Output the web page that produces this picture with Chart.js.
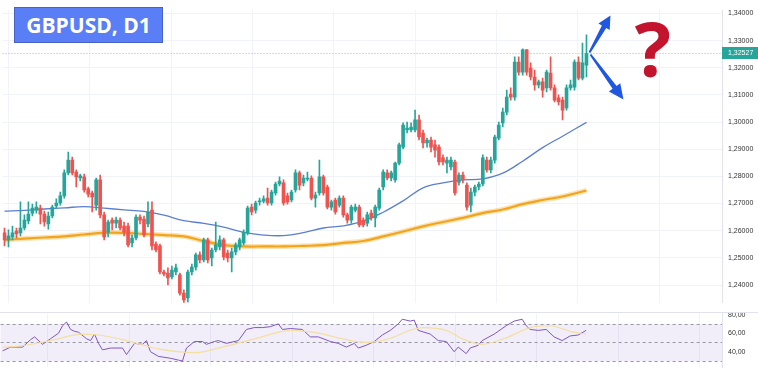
<!DOCTYPE html>
<html>
<head>
<meta charset="utf-8">
<script src="https://cdn.jsdelivr.net/npm/chart.js@4.4.1/dist/chart.umd.min.js"></script>
<style>
  html, body { margin: 0; padding: 0; background: #fff; }
  #wrap { position: relative; width: 758px; height: 368px; overflow: hidden; background: #fff; }
  #rsiBox { position: absolute; left: 0; top: 313px; width: 758px; height: 55px; }
  #mainBox { position: absolute; left: 0; top: 0; width: 758px; height: 313px; background: #fff; }
  #title {
    position: absolute; left: 14px; top: 7px; width: 149px; height: 36px;
    box-sizing: border-box; background: #5a7ef5; border: 1px solid #4762c4;
    color: #fff; font: bold 21px "Open Sans"; line-height: 34px; text-align: center;
  }
  #qmark {
    position: absolute; left: 633px; top: 10px; width: 40px;
    color: #c3142d; font: bold 76px "Open Sans"; line-height: 76px; text-align: center;
  }
</style>
</head>
<body>
<div id="wrap">
  <div id="rsiBox"><canvas id="rsiChart" width="758" height="55"></canvas></div>
  <div id="mainBox"><canvas id="priceChart" width="758" height="313"></canvas></div>
  <div id="title">GBPUSD, D1</div>
  <div id="qmark">?</div>
</div>
<script>
// daily candles
const opens = [1.2592,1.2566,1.2577,1.2599,1.2592,1.2610,1.2636,1.2665,1.2676,1.2683,
  1.2661,1.2625,1.2654,1.2691,1.2702,1.2728,1.2813,1.2860,1.2816,1.2794,
  1.2798,1.2754,1.2739,1.2694,1.2787,1.2658,1.2595,1.2639,1.2628,1.2639,
  1.2617,1.2617,1.2555,1.2573,1.2650,1.2643,1.2625,1.2676,1.2551,1.2544,
  1.2448,1.2444,1.2430,1.2448,1.2437,1.2370,1.2352,1.2448,1.2466,1.2511,
  1.2492,1.2566,1.2500,1.2529,1.2540,1.2566,1.2518,1.2500,1.2522,1.2540,
  1.2555,1.2592,1.2687,1.2676,1.2706,1.2709,1.2720,1.2702,1.2739,1.2772,
  1.2776,1.2728,1.2713,1.2750,1.2813,1.2776,1.2790,1.2794,1.2720,1.2739,
  1.2798,1.2761,1.2687,1.2713,1.2694,1.2720,1.2658,1.2639,1.2676,1.2687,
  1.2639,1.2628,1.2665,1.2647,1.2683,1.2761,1.2813,1.2794,1.2787,1.2849,
  1.2908,1.2971,1.2971,1.2971,1.3008,1.2960,1.2923,1.2934,1.2916,1.2908,
  1.2868,1.2849,1.2835,1.2853,1.2779,1.2805,1.2768,1.2694,1.2742,1.2761,
  1.2772,1.2860,1.2824,1.2860,1.2941,1.2997,1.3037,1.3103,1.3092,1.3221,
  1.3184,1.3266,1.3199,1.3166,1.3137,1.3148,1.3126,1.3181,1.3126,1.3089,
  1.3081,1.3052,1.3126,1.3129,1.3221,1.3162,1.3210];
const highs = [1.2610,1.2603,1.2617,1.2610,1.2706,1.2658,1.2706,1.2698,1.2706,1.2694,
  1.2672,1.2669,1.2694,1.2717,1.2742,1.2824,1.2890,1.2871,1.2824,1.2809,
  1.2809,1.2761,1.2746,1.2794,1.2805,1.2669,1.2639,1.2647,1.2650,1.2647,
  1.2632,1.2628,1.2584,1.2658,1.2658,1.2654,1.2706,1.2706,1.2559,1.2551,
  1.2455,1.2463,1.2470,1.2477,1.2444,1.2382,1.2455,1.2477,1.2518,1.2522,
  1.2573,1.2573,1.2536,1.2632,1.2581,1.2573,1.2529,1.2536,1.2555,1.2573,
  1.2603,1.2691,1.2698,1.2709,1.2720,1.2728,1.2757,1.2750,1.2779,1.2798,
  1.2787,1.2739,1.2750,1.2824,1.2820,1.2805,1.2816,1.2802,1.2742,1.2860,
  1.2805,1.2768,1.2713,1.2720,1.2728,1.2728,1.2665,1.2694,1.2698,1.2694,
  1.2647,1.2669,1.2676,1.2694,1.2757,1.2824,1.2824,1.2820,1.2853,1.2923,
  1.2997,1.3000,1.2997,1.3044,1.3026,1.2971,1.2941,1.2945,1.2934,1.2916,
  1.2879,1.2871,1.2871,1.2860,1.2813,1.2816,1.2776,1.2757,1.2768,1.2779,
  1.2879,1.2871,1.2871,1.2952,1.3000,1.3052,1.3118,1.3126,1.3240,1.3240,
  1.3270,1.3268,1.3218,1.3192,1.3155,1.3162,1.3192,1.3240,1.3137,1.3100,
  1.3092,1.3137,1.3155,1.3229,1.3240,1.3291,1.3321];
const lows = [1.2544,1.2540,1.2566,1.2573,1.2581,1.2603,1.2625,1.2654,1.2665,1.2625,
  1.2617,1.2606,1.2647,1.2683,1.2694,1.2720,1.2805,1.2805,1.2761,1.2783,
  1.2742,1.2724,1.2669,1.2676,1.2647,1.2566,1.2577,1.2603,1.2610,1.2603,
  1.2581,1.2540,1.2540,1.2566,1.2625,1.2577,1.2614,1.2529,1.2522,1.2441,
  1.2433,1.2400,1.2422,1.2437,1.2363,1.2301,1.2337,1.2437,1.2455,1.2481,
  1.2485,1.2481,1.2470,1.2522,1.2529,1.2492,1.2485,1.2448,1.2511,1.2529,
  1.2548,1.2584,1.2658,1.2665,1.2694,1.2702,1.2694,1.2694,1.2731,1.2765,
  1.2694,1.2698,1.2706,1.2742,1.2750,1.2765,1.2783,1.2713,1.2687,1.2731,
  1.2731,1.2680,1.2676,1.2661,1.2687,1.2650,1.2628,1.2628,1.2669,1.2614,
  1.2614,1.2617,1.2639,1.2614,1.2676,1.2750,1.2787,1.2783,1.2779,1.2842,
  1.2901,1.2960,1.2964,1.2964,1.2934,1.2905,1.2908,1.2890,1.2871,1.2842,
  1.2842,1.2813,1.2824,1.2731,1.2768,1.2776,1.2676,1.2669,1.2728,1.2750,
  1.2765,1.2816,1.2813,1.2849,1.2934,1.2982,1.3026,1.3081,1.3081,1.3173,
  1.3173,1.3173,1.3155,1.3118,1.3126,1.3092,1.3111,1.3118,1.3074,1.3063,
  1.3008,1.3044,1.3118,1.3118,1.3155,1.3155,1.3166];
const closes = [1.2566,1.2581,1.2592,1.2588,1.2610,1.2639,1.2661,1.2683,1.2687,1.2661,
  1.2632,1.2654,1.2687,1.2702,1.2728,1.2813,1.2860,1.2813,1.2798,1.2802,
  1.2750,1.2735,1.2724,1.2787,1.2658,1.2577,1.2632,1.2628,1.2639,1.2610,
  1.2595,1.2548,1.2573,1.2650,1.2639,1.2584,1.2669,1.2544,1.2529,1.2448,
  1.2441,1.2426,1.2455,1.2463,1.2370,1.2345,1.2448,1.2466,1.2511,1.2492,
  1.2566,1.2492,1.2529,1.2548,1.2566,1.2503,1.2500,1.2522,1.2548,1.2566,
  1.2595,1.2683,1.2669,1.2702,1.2709,1.2717,1.2702,1.2742,1.2772,1.2783,
  1.2702,1.2706,1.2742,1.2813,1.2768,1.2794,1.2794,1.2720,1.2731,1.2798,
  1.2739,1.2687,1.2706,1.2669,1.2720,1.2658,1.2639,1.2687,1.2687,1.2621,
  1.2621,1.2658,1.2647,1.2687,1.2750,1.2816,1.2794,1.2813,1.2849,1.2916,
  1.2989,1.2978,1.2982,1.3008,1.2945,1.2923,1.2934,1.2908,1.2897,1.2853,
  1.2853,1.2860,1.2860,1.2739,1.2805,1.2787,1.2687,1.2742,1.2761,1.2772,
  1.2868,1.2824,1.2860,1.2945,1.2989,1.3037,1.3092,1.3092,1.3221,1.3184,
  1.3266,1.3184,1.3166,1.3137,1.3148,1.3118,1.3184,1.3126,1.3081,1.3074,
  1.3044,1.3126,1.3137,1.3221,1.3162,1.3218,1.32527];
const lastPrice = 1.32527;

// moving averages, sampled at these candle numbers
const maIdx = [0,5,10,15,20,25,30,35,40,45,50,55,60,65,70,75,80,85,90,95,100,105,110,115,120,125,130,135,140,146];
const maFast = [1.2672,1.2675,1.2680,1.2684,1.2689,1.2683,1.2677,1.2671,1.2657,1.2637,1.2627,1.2613,1.2594,1.2584,1.2582,
  1.2593,1.2610,1.2618,1.2635,1.2668,1.2710,1.2758,1.2776,1.2787,1.2791,1.2812,1.2856,1.2906,1.2948,1.2999];
const maSlow = [1.2566,1.2571,1.2575,1.2579,1.2586,1.2592,1.2592,1.2588,1.2584,1.2579,1.2562,1.2547,1.2542,1.2542,1.2542,
  1.2544,1.2547,1.2555,1.2562,1.2579,1.2597,1.2616,1.2632,1.2647,1.2665,1.2678,1.2698,1.2713,1.2726,1.2748];

// RSI and its average
const rsiIdx = [0,2,5,7,8,10,12,14,15,16,17,18,19,21,22,23,24,25,27,30,31,33,35,36,37,39,42,44,45,46,48,50,51,53,54,56,59,61,63,65,
  67,69,70,72,75,77,79,82,84,86,88,89,91,93,95,97,99,100,102,103,104,107,109,111,113,114,116,117,119,120,123,126,128,130,131,132,
  134,136,138,140,142,144,146];
const rsiVals = [41,45,45,53,56,48,54,60,68,72,64,62,61,54,52,59,49,42,44,44,37,49,48,52,40,35,33,31,30,44,51,51,48,51,52,49,52,64,66,66,
  67,70,64,65,64,56,56,51,49,45,49,44,47,51,58,63,70,75,73,74,63,59,52,51,40,45,38,44,47,52,59,68,73,75,68,64,
  63,64,56,52,57,58,63];
const rsiMaIdx = [0,4,12,20,24,31,39,48,55,64,72,79,86,91,96,105,111,115,120,126,132,137,142,146];
const rsiMaVals = [45,46,52,59,58,52,43,39,45,55,63,60,53,50,53,66,63,54,48,55,66,68,62,59];

const priceTicks = [1.24,1.25,1.26,1.27,1.28,1.29,1.30,1.31,1.32,1.33,1.34];
const rsiTicks = [40,60,80];

const UP = "#26a69a";
const DOWN = "#ef5350";
const GRID = "#f0f3fa";
const gridIdx = [11.25,31.65,52.05,72.45,92.85,113.25,133.65,154.05,174.45];
const axisFont = { family: "Liberation Sans", size: 7 };

const candleColor = (i) => (closes[i] >= opens[i] ? UP : DOWN);
const wickData = opens.map((o, i) => ({ x: i, y: [lows[i], highs[i]] }));
const bodyData = opens.map((o, i) => ({ x: i, y: [o, closes[i]] }));
const toPoints = (idx, vals) => idx.map((x, k) => ({ x: x, y: vals[k] }));

function xAxis() {
  return {
    type: "linear",
    min: -0.5,
    max: 180,
    offset: false,
    grid: { color: GRID, drawTicks: false },
    border: { display: false },
    ticks: { display: false },
    afterBuildTicks: (s) => { s.ticks = gridIdx.map((v) => ({ value: v })); },
    afterFit: (s) => { s.height = 0; },
  };
}

// fit the scales so candle i sits at 2 + 4i px, and the y value yRef sits at pixel yAt
function pinScales(chart, yRef, yAt, pxPerUnit) {
  const a = chart.chartArea;
  chart.options.scales.x.min = (a.left - 2) / 4;
  chart.options.scales.x.max = (a.right - 2) / 4;
  chart.options.scales.y.max = yRef + (yAt - a.top) / pxPerUnit;
  chart.options.scales.y.min = yRef - (a.bottom - yAt) / pxPerUnit;
  chart.update();
}

function drawArrow(ctx, x0, y0, x1, y1, w0, w1, hw, hl) {
  const dx = x1 - x0, dy = y1 - y0, len = Math.hypot(dx, dy);
  const ux = dx / len, uy = dy / len, px = -uy, py = ux;
  const bx = x1 - ux * hl, by = y1 - uy * hl;
  ctx.beginPath();
  ctx.moveTo(x0 + px * w0 / 2, y0 + py * w0 / 2);
  ctx.lineTo(bx + px * w1 / 2, by + py * w1 / 2);
  ctx.lineTo(bx + px * hw / 2, by + py * hw / 2);
  ctx.lineTo(x1, y1);
  ctx.lineTo(bx - px * hw / 2, by - py * hw / 2);
  ctx.lineTo(bx - px * w1 / 2, by - py * w1 / 2);
  ctx.lineTo(x0 - px * w0 / 2, y0 - py * w0 / 2);
  ctx.closePath();
  ctx.fill();
}

const priceExtras = {
  id: "priceExtras",
  afterDraw(chart) {
    const { ctx, chartArea, scales } = chart;
    const y = Math.round(scales.y.getPixelForValue(lastPrice)) + 0.5;
    ctx.save();
    // last price line
    ctx.strokeStyle = "rgba(38,166,154,0.55)";
    ctx.lineWidth = 1;
    ctx.setLineDash([1, 2]);
    ctx.beginPath();
    ctx.moveTo(chartArea.left, y);
    ctx.lineTo(chartArea.right, y);
    ctx.stroke();
    ctx.setLineDash([]);
    // last price label
    ctx.fillStyle = UP;
    ctx.fillRect(chartArea.right, y - 6.5, 36, 12);
    ctx.fillStyle = "#fff";
    ctx.font = "7px 'Liberation Sans'";
    ctx.textBaseline = "middle";
    ctx.fillText(lastPrice.toFixed(5).replace(".", ","), chartArea.right + 6, y);
    // pane separator
    ctx.strokeStyle = "#e0e3eb";
    ctx.beginPath();
    ctx.moveTo(0, chart.height - 0.5);
    ctx.lineTo(chart.width, chart.height - 0.5);
    ctx.stroke();
    // the two arrows
    const sx = scales.x.getPixelForValue(closes.length - 1) + 3;
    const sy = scales.y.getPixelForValue(lastPrice);
    ctx.fillStyle = "#2057e0";
    drawArrow(ctx, sx, sy - 1, sx + 21, sy - 38, 2, 5, 13, 13);
    drawArrow(ctx, sx + 1, sy + 1, sx + 34, sy + 46, 2, 5, 14, 15);
    ctx.restore();
  },
};

const priceChart = new Chart(document.getElementById("priceChart"), {
  type: "bar",
  data: {
    datasets: [
      { type: "line", data: toPoints(maIdx, maSlow), borderColor: "rgba(247,172,40,0.35)", borderWidth: 5,
        pointRadius: 0, tension: 0.4, order: 3 },
      { type: "line", data: toPoints(maIdx, maSlow), borderColor: "#f2a51c", borderWidth: 2.2,
        pointRadius: 0, tension: 0.4, order: 2 },
      { type: "line", data: toPoints(maIdx, maFast), borderColor: "#5b7fd0", borderWidth: 1.3,
        pointRadius: 0, tension: 0.4, order: 2 },
      { data: wickData, backgroundColor: (c) => candleColor(c.dataIndex), barThickness: 1,
        grouped: false, borderWidth: 0, order: 1 },
      { data: bodyData, backgroundColor: (c) => candleColor(c.dataIndex), barThickness: 3,
        grouped: false, borderWidth: 0, minBarLength: 1, order: 0 },
    ],
  },
  options: {
    responsive: false,
    animation: false,
    layout: { padding: 0 },
    plugins: { legend: { display: false }, tooltip: { enabled: false } },
    scales: {
      x: xAxis(),
      y: {
        type: "linear",
        position: "right",
        min: 1.22858,
        max: 1.34497,
        afterBuildTicks: (s) => { s.ticks = priceTicks.map((v) => ({ value: v })); },
        afterFit: (s) => { s.width = 36; },
        grid: { color: GRID, drawTicks: false },
        border: { color: "#e0e3eb" },
        ticks: {
          padding: 6,
          color: "#333",
          font: axisFont,
          callback: (v) => v.toFixed(5).replace(".", ","),
        },
      },
    },
  },
  plugins: [priceExtras],
});
// 1,34000 at y 13.5, 2715 px per 1.0 of price
pinScales(priceChart, 1.34, 13.5, 2715);

// RSI pane: band, level lines, and the axis labels (drawn here so the pane keeps its full height)
const rsiBand = {
  id: "rsiBand",
  beforeDatasetsDraw(chart) {
    const { ctx, chartArea, scales } = chart;
    const y70 = scales.y.getPixelForValue(70);
    const y50 = scales.y.getPixelForValue(50);
    const y30 = scales.y.getPixelForValue(30);
    ctx.save();
    ctx.fillStyle = "rgba(126,87,194,0.1)";
    ctx.fillRect(chartArea.left, y70, chartArea.right - chartArea.left, y30 - y70);
    ctx.strokeStyle = "#9598a1";
    ctx.lineWidth = 1;
    ctx.setLineDash([3, 3]);
    [y70, y50, y30].forEach((y) => {
      ctx.beginPath();
      ctx.moveTo(chartArea.left, Math.round(y) + 0.5);
      ctx.lineTo(chartArea.right, Math.round(y) + 0.5);
      ctx.stroke();
    });
    ctx.restore();
  },
  afterDraw(chart) {
    const { ctx, chartArea, scales } = chart;
    ctx.save();
    ctx.fillStyle = "#333";
    ctx.font = "7px 'Liberation Sans'";
    ctx.textBaseline = "middle";
    rsiTicks.forEach((v) => {
      ctx.fillText(v.toFixed(2).replace(".", ","), chartArea.right + 6, scales.y.getPixelForValue(v));
    });
    ctx.restore();
  },
};

const rsiChart = new Chart(document.getElementById("rsiChart"), {
  type: "line",
  data: {
    datasets: [
      { data: toPoints(rsiMaIdx, rsiMaVals), borderColor: "#f3dfa0", borderWidth: 1.2, pointRadius: 0,
        cubicInterpolationMode: "monotone" },
      { data: toPoints(rsiIdx, rsiVals), borderColor: "#7e57c2", borderWidth: 1, pointRadius: 0, tension: 0 },
    ],
  },
  options: {
    responsive: false,
    animation: false,
    layout: { padding: 0 },
    plugins: { legend: { display: false }, tooltip: { enabled: false } },
    scales: {
      x: xAxis(),
      y: {
        type: "linear",
        position: "right",
        min: 23.16,
        max: 82.1,
        afterFit: (s) => { s.width = 36; },
        grid: { display: false },
        border: { color: "#e0e3eb" },
        ticks: { display: false },
      },
    },
  },
  plugins: [rsiBand],
});
// 70 at y 10.5 of this pane (323.5 on the page), 0.95 px per RSI point
pinScales(rsiChart, 70, 10.5, 0.95);
</script>
</body>
</html>
